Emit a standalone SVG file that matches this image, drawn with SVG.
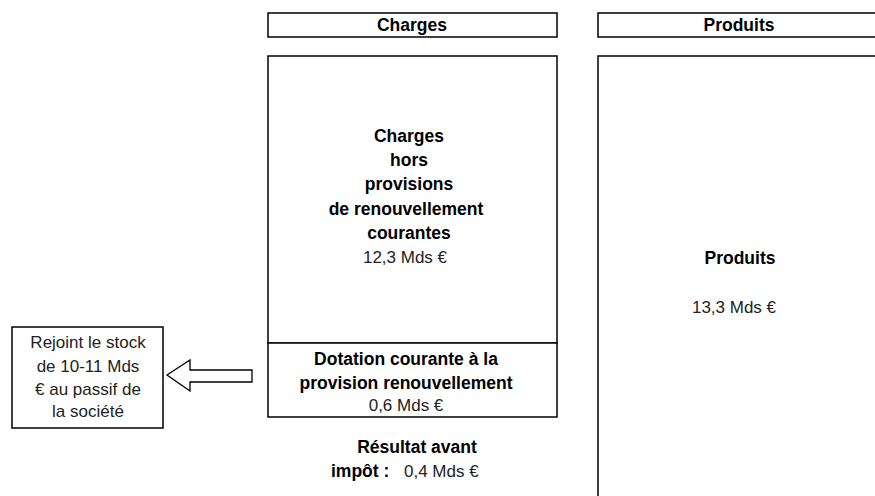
<svg xmlns="http://www.w3.org/2000/svg" width="875" height="496" viewBox="0 0 875 496">
<style>
.box{fill:#fff;stroke:#000;stroke-width:1.5}
.b{font-family:"Liberation Sans",Arial,sans-serif;font-weight:bold;font-size:17.5px;fill:#000;text-anchor:middle}
.n{font-family:"Liberation Sans",Arial,sans-serif;font-size:17px;fill:#222;text-anchor:middle}
</style>
<rect width="875" height="496" fill="#fff"/>
<g id="charges-header">
<rect class="box" x="268" y="13" width="289" height="24"/>
<text class="b" x="412" y="31">Charges</text>
</g>
<g id="produits-header">
<rect class="box" x="598" y="13" width="290" height="24"/>
<text class="b" x="739" y="31">Produits</text>
</g>
<g id="charges-main">
<rect class="box" x="268" y="56" width="289" height="287"/>
<text class="b" x="409" y="142">Charges</text>
<text class="b" x="409" y="166">hors</text>
<text class="b" x="409" y="190">provisions</text>
<text class="b" x="406" y="215">de renouvellement</text>
<text class="b" x="409" y="239">courantes</text>
<text class="n" x="405" y="263">12,3 Mds €</text>
</g>
<g id="dotation">
<rect class="box" x="268" y="343" width="289" height="74"/>
<text class="b" x="406" y="365">Dotation courante à la</text>
<text class="b" x="406" y="389">provision renouvellement</text>
<text class="n" x="406" y="411">0,6 Mds €</text>
</g>
<g id="resultat">
<text class="b" x="417" y="453">Résultat avant</text>
<text class="b" x="331" y="477" style="text-anchor:start">impôt :<tspan x="404" style="font-weight:normal;font-size:17px;fill:#222">0,4 Mds €</tspan></text>
</g>
<g id="produits-main">
<rect class="box" x="598" y="56" width="290" height="460"/>
<text class="b" x="740" y="264">Produits</text>
<text class="n" x="734" y="313">13,3 Mds €</text>
</g>
<g id="stock-note">
<rect class="box" x="12" y="327" width="151" height="101" stroke-width="1.2"/>
<text class="n" x="88" y="348">Rejoint le stock</text>
<text class="n" x="88" y="372">de 10-11 Mds</text>
<text class="n" x="88" y="395">€ au passif de</text>
<text class="n" x="88" y="417">la société</text>
</g>
<g id="connectors">
<polygon points="167,375 190,360 190,370 252,370 252,382 190,382 190,391" fill="#fff" stroke="#000" stroke-width="1.3"/>
</g>
</svg>
